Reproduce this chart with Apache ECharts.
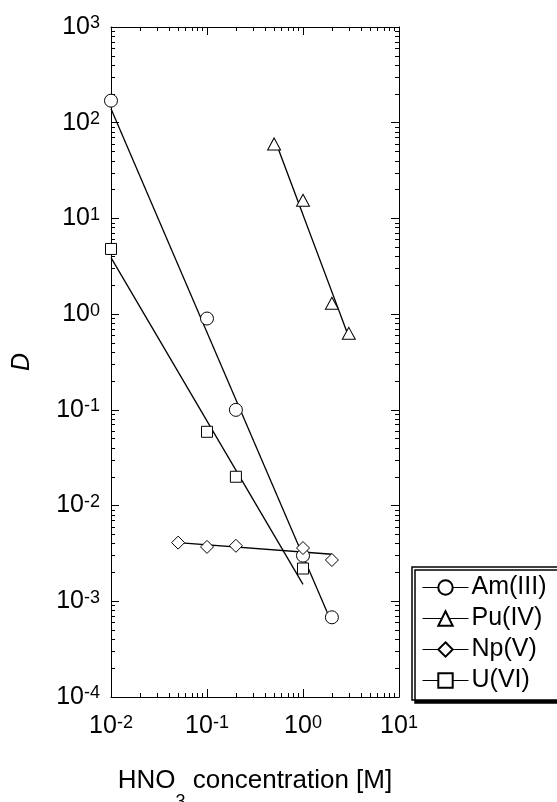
<!DOCTYPE html>
<html>
<head>
<meta charset="utf-8">
<script src="https://cdn.jsdelivr.net/npm/echarts@6/dist/echarts.min.js"></script>
<style>
html,body{margin:0;padding:0;background:#fff;overflow:hidden;width:557px;height:802px;}
#c{width:600px;height:802px;}
</style>
</head>
<body>
<div id="c"></div>
<script>
// ---- data ----
const xRange = [0.01, 10];
const yRange = [1e-4, 1e3];

const seriesNames = ['Am(III)', 'Pu(IV)', 'Np(V)', 'U(VI)'];

const amX = [0.01, 0.1, 0.2, 1, 2];
const amY = [170, 0.9, 0.1, 0.003, 0.00068];
const puX = [0.5, 1, 2, 3];
const puY = [60, 15.5, 1.3, 0.63];
const npX = [0.05, 0.1, 0.2, 1, 2];
const npY = [0.0041, 0.0037, 0.0038, 0.0036, 0.0027];
const uX = [0.01, 0.1, 0.2, 1];
const uY = [4.8, 0.059, 0.02, 0.0022];

// fitted straight lines (end points)
const amFitX = [0.01, 2];
const amFitY = [140, 0.00059];
const puFitX = [0.55, 2.9];
const puFitY = [54, 0.63];
const npFitX = [0.05, 2];
const npFitY = [0.0041, 0.0031];
const uFitX = [0.01, 1];
const uFitY = [3.9, 0.0015];

function pairs(xs, ys) { return xs.map((x, i) => [x, ys[i]]); }

const FONT = 'Liberation Sans, Arial, Helvetica, sans-serif';

function expLabel(v) {
  const e = Math.round(Math.log10(v));
  return '{b|10}{s|' + (e < 0 ? '-' + Math.abs(e) : e) + '}';
}
const richExp = {
  b: { fontSize: 25, lineHeight: 25, fontFamily: FONT, color: '#000', verticalAlign: 'middle' },
  s: { fontSize: 18, lineHeight: 12, fontFamily: FONT, color: '#000', verticalAlign: 'top' }
};

function logAxis(extra) {
  return Object.assign({
    type: 'log',
    logBase: 10,
    axisLine: { show: true, onZero: false, lineStyle: { color: '#000', width: 1 } },
    axisTick: { show: true, inside: true, length: 8, lineStyle: { color: '#000', width: 1 } },
    minorTick: { show: true, splitNumber: 9, length: 4, lineStyle: { color: '#000', width: 1 } },
    splitLine: { show: false },
    minorSplitLine: { show: false }
  }, extra);
}

function pointSeries(name, xs, ys, symbol, size) {
  return {
    name: name,
    type: 'line',
    xAxisIndex: 0, yAxisIndex: 0,
    data: pairs(xs, ys),
    symbol: symbol,
    symbolSize: size,
    showSymbol: true,
    lineStyle: { width: 0, opacity: 0 },
    itemStyle: { color: '#fff', borderColor: '#000', borderWidth: 1, opacity: 1 },
    emphasis: { disabled: true },
    z: 5,
    animation: false
  };
}
function fitSeries(name, xs, ys) {
  return {
    name: name,
    type: 'line',
    xAxisIndex: 0, yAxisIndex: 0,
    data: pairs(xs, ys),
    showSymbol: false,
    symbol: 'none',
    lineStyle: { color: '#000', width: 1.3 },
    emphasis: { disabled: true },
    z: 3,
    animation: false
  };
}

const chart = echarts.init(document.getElementById('c'), null, { renderer: 'canvas' });
chart.setOption({
  backgroundColor: '#fff',
  animation: false,
  grid: { left: 111, right: 201, top: 27, bottom: 105, containLabel: false, outerBoundsMode: 'none' },
  xAxis: [
    logAxis({
      position: 'bottom', min: xRange[0], max: xRange[1],
      axisLabel: { show: true, margin: 17, formatter: expLabel, rich: richExp },
      name: '{a|HNO}{sub|3}{a| concentration [M]}',
      nameLocation: 'middle',
      nameGap: 71,
      nameTextStyle: {
        rich: {
          a: { fontSize: 26, lineHeight: 26, fontFamily: FONT, color: '#000', verticalAlign: 'top' },
          sub: { fontSize: 18, lineHeight: 18, fontFamily: FONT, color: '#000', verticalAlign: 'top', padding: [25, 0, 0, 0] }
        }
      }
    }),
    logAxis({
      position: 'top', min: xRange[0], max: xRange[1],
      axisLabel: { show: false }
    })
  ],
  yAxis: [
    logAxis({
      position: 'left', min: yRange[0], max: yRange[1],
      axisLabel: { show: true, margin: 11, formatter: expLabel, rich: richExp },
      name: 'D',
      nameLocation: 'middle',
      nameRotate: 90,
      nameGap: 76,
      nameTextStyle: { fontSize: 25, fontStyle: 'italic', fontFamily: FONT, color: '#000' }
    }),
    logAxis({
      position: 'right', min: yRange[0], max: yRange[1],
      axisLabel: { show: false }
    })
  ],
  legend: {
    show: true,
    data: seriesNames,
    orient: 'vertical',
    left: 412,
    top: 567,
    itemWidth: 46,
    itemHeight: 18,
    itemGap: 6,
    padding: [8, 20, 7, 10],
    backgroundColor: '#fff',
    borderColor: '#000',
    borderWidth: 1.5,
    borderRadius: 0,
    shadowColor: '#000',
    shadowBlur: 0,
    shadowOffsetX: 3,
    shadowOffsetY: 3,
    selectedMode: false,
    formatter: function (name) { return '{n|' + name + '}{p|}'; },
    lineStyle: { color: '#000', width: 1, opacity: 1 },
    textStyle: {
      fontSize: 25, fontFamily: FONT, color: '#000',
      rich: {
        n: { fontSize: 25, fontFamily: FONT, color: '#000', padding: [0, 0, 0, -2] },
        p: { width: 40, fontSize: 25 }
      }
    }
  },
  series: [
    fitSeries('Am fit', amFitX, amFitY),
    fitSeries('Pu fit', puFitX, puFitY),
    fitSeries('Np fit', npFitX, npFitY),
    fitSeries('U fit', uFitX, uFitY),
    pointSeries(seriesNames[0], amX, amY, 'circle', 13),
    pointSeries(seriesNames[1], puX, puY, 'triangle', [13, 12]),
    pointSeries(seriesNames[2], npX, npY, 'diamond', 13),
    pointSeries(seriesNames[3], uX, uY, 'rect', 11)
  ]
});
</script>
</body>
</html>
